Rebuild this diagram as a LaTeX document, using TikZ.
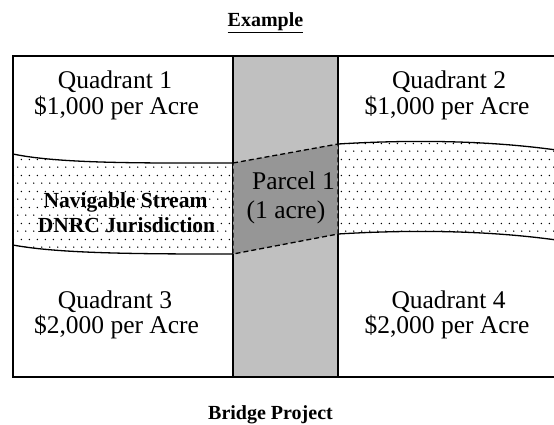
\documentclass[tikz,border=0pt]{standalone}
\usepackage{fontspec}
\setmainfont{Liberation Serif}
\usetikzlibrary{patterns}
\pgfdeclarepatternformonly{sparsedots}{\pgfpointorigin}{\pgfpoint{8pt}{16pt}}{\pgfpoint{8pt}{16pt}}{%
  \pgfpathcircle{\pgfpoint{2pt}{2pt}}{0.85pt}%
  \pgfpathcircle{\pgfpoint{6pt}{10pt}}{0.85pt}%
  \pgfusepath{fill}}
\definecolor{stripgray}{HTML}{C0C0C0}
\definecolor{parcelgray}{HTML}{969696}
\tikzset{
  quadtext/.style={anchor=base, inner sep=0pt, font=\fontsize{25.5}{26}\selectfont},
  streamtext/.style={anchor=base, inner sep=0pt, font=\fontsize{21.5}{25}\selectfont\bfseries},
  titletext/.style={anchor=base, inner sep=0pt, font=\fontsize{20}{22}\selectfont\bfseries},
  streamline/.style={line width=1.3pt},
  parcelborder/.style={line width=1.3pt, dash pattern=on 5pt off 3pt, fill=parcelgray},
}
\begin{document}
\begin{tikzpicture}[x=1pt, y=-1pt]
\useasboundingbox (0,0) rectangle (554,424);
\clip (0,0) rectangle (554,424);
\fill[white] (0,0) rectangle (554,424);
% outer frame
\draw[line width=2pt] (13,56) rectangle (570,377);
% middle strip
\draw[line width=1.5pt, fill=stripgray] (233,56) rectangle (338,377);
% stream left part
\path[pattern=sparsedots] (13,154) .. controls (60,164) and (150,163) .. (233,163)
  -- (233,254) .. controls (150,254) and (60,254) .. (13,245) -- cycle;
\draw[streamline] (13,154) .. controls (60,164) and (150,163) .. (233,163);
\draw[streamline] (13,245) .. controls (60,254) and (150,254) .. (233,254);
% stream right part
\path[pattern=sparsedots] (338,144) .. controls (420,139) and (500,141) .. (570,152)
  -- (570,242) .. controls (500,231) and (420,229) .. (338,234) -- cycle;
\draw[streamline] (338,144) .. controls (420,139) and (500,141) .. (570,152);
\draw[streamline] (338,234) .. controls (420,229) and (500,231) .. (570,242);
% parcel
\draw[parcelborder] (233,163) -- (338,144) -- (338,234) -- (233,254) -- cycle;
% texts
\node[titletext] (title) at (265.5,26.7) {\underline{Example}};
\node[titletext] (bottomtitle) at (270.5,419) {Bridge Project};
\node[quadtext] (q1a) at (115,88) {Quadrant 1};
\node[quadtext] (q1b) at (116.5,114) {\$1,000 per Acre};
\node[quadtext] (q2a) at (449,88) {Quadrant 2};
\node[quadtext] (q2b) at (447,114) {\$1,000 per Acre};
\node[quadtext] (q3a) at (115,308) {Quadrant 3};
\node[quadtext] (q3b) at (116.5,333) {\$2,000 per Acre};
\node[quadtext] (q4a) at (448.5,308) {Quadrant 4};
\node[quadtext] (q4b) at (447,333) {\$2,000 per Acre};
\node[quadtext] (p1) at (293.5,189) {Parcel 1};
\node[quadtext] (p2) at (286,218) {(1 acre)};
\node[streamtext] (s1) at (125.5,207) {Navigable Stream};
\node[streamtext] (s2) at (126.5,232) {DNRC Jurisdiction};
\end{tikzpicture}
\end{document}
